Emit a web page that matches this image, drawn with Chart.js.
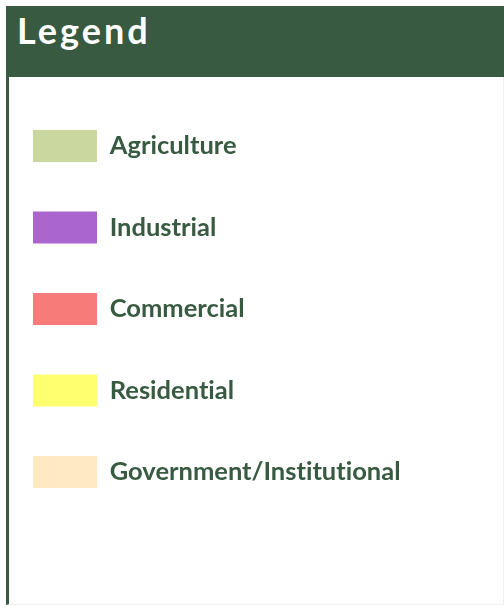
<!DOCTYPE html>
<html>
<head>
<meta charset="utf-8">
<script src="https://cdn.jsdelivr.net/npm/chart.js@4.4.1/dist/chart.umd.min.js"></script>
<style>
html,body{margin:0;padding:0;background:#fff;width:504px;height:605px;overflow:hidden;}
body{position:relative;}
#header{position:absolute;left:6px;top:6px;width:498px;height:71px;background:#375a40;}
#header span{position:absolute;left:11px;top:2.5px;color:#fff;font-family:Lato;font-weight:bold;font-size:36px;line-height:43.2px;letter-spacing:3px;white-space:nowrap;font-variant-ligatures:none;}
#frame{position:absolute;left:6px;top:77px;width:498px;height:528px;box-sizing:border-box;border-left:3px solid #375a40;border-right:1px solid #efefef;border-bottom:1px solid #efefef;background:#fff;}
#wrap{position:absolute;left:-17px;top:80px;width:521px;height:525px;}
</style>
</head>
<body>
<div id="header"><span>Legend</span></div>
<div id="frame"></div>
<div id="wrap"><canvas id="c"></canvas></div>
<script>
const categories = ['Agriculture', 'Industrial', 'Commercial', 'Residential', 'Government/Institutional'];
const swatchColors = ['#cad8a0', '#aa66cc', '#f77b78', '#ffff70', '#ffe9c2'];
const values = [[], [], [], [], []];

const datasets = categories.map((name, i) => ({
  label: name,
  data: values[i],
  backgroundColor: swatchColors[i],
  borderColor: 'rgba(0,0,0,0)',
  borderWidth: 0
}));

const noLigatures = {
  id: 'noLigatures',
  beforeDraw(chart) {
    const ctx = chart.ctx;
    if ('textRendering' in ctx) ctx.textRendering = 'optimizeSpeed';
  }
};

new Chart(document.getElementById('c'), {
  type: 'bar',
  data: { labels: [], datasets: datasets },
  plugins: [noLigatures],
  options: {
    responsive: true,
    maintainAspectRatio: false,
    animation: false,
    events: [],
    layout: { padding: { left: 0.5, top: 0.5, right: 0, bottom: 0 } },
    scales: { x: { display: false }, y: { display: false } },
    plugins: {
      tooltip: { enabled: false },
      title: { display: false },
      legend: {
        position: 'left',
        align: 'start',
        maxWidth: 521,
        labels: {
          boxWidth: 64,
          boxHeight: 32,
          padding: 49.5,
          color: '#375a40',
          font: { family: 'Lato', size: 25.5, weight: 'bold' }
        }
      }
    }
  }
});
</script>
</body>
</html>
